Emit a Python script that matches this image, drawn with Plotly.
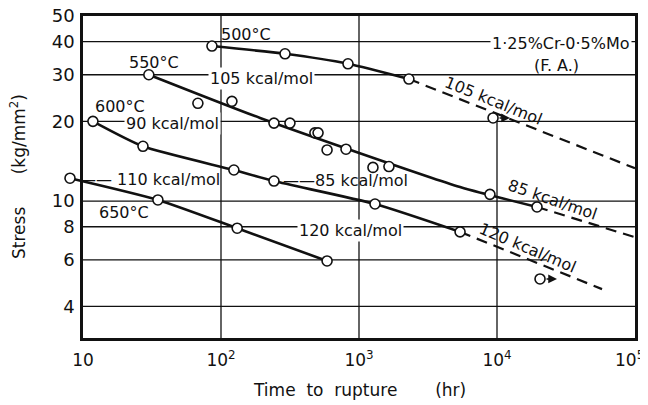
import numpy as np
import plotly.graph_objects as go

# ---------------- data (time to rupture [hr], stress [kg/mm2]) ----------------
# 500 C
t500 = [86, 291, 832, 2300]
s500 = [38.5, 36, 33, 28.9]
ext500_t = [2300, 100000]
ext500_s = [28.9, 13.3]
run500_t = [9360]
run500_s = [20.6]

# 550 C
t550 = [30, 68, 120, 242, 316, 479, 505, 587, 805, 1262, 1648, 8890, 19500]
s550 = [30, 23.4, 23.8, 19.7, 19.7, 18.1, 18.1, 15.6, 15.7, 13.4, 13.5, 10.6, 9.5]
fit550_t = [30, 192, 5400, 19500]
fit550_s = [30, 20.6, 11.3, 9.5]
ext550_t = [19500, 100000]
ext550_s = [9.5, 7.3]

# 600 C
t600 = [11.8, 27.2, 124, 242, 1306, 5400]
s600 = [20, 16.1, 13.1, 11.9, 9.75, 7.65]
ext600_t = [5400, 57700]
ext600_s = [7.65, 4.65]

# 650 C
t650 = [8.05, 34.9, 131, 587]
s650 = [12.2, 10.1, 7.9, 5.94]
run650_t = [20500]
run650_s = [5.08]

x_ticks = [10, 100, 1000, 10000, 100000]
x_ticktext = ["10", "10<sup>2</sup>", "10<sup>3</sup>", "10<sup>4</sup>",
              "10<sup>5</sup>\u00a0\u00a0"]
y_ticks = [4, 6, 8, 10, 20, 30, 40, 50]
y_ticktext = ["4", "6", "8", "10", "20", "30", "40", "50"]
y_grid = [4, 6, 8, 10, 20, 30, 40]
x_grid = [100, 1000, 10000]

# ---------------- figure geometry (page has an 8px body margin) ----------------
OFF = 8
W, H = 648 - OFF, 405 - OFF
L_PAD, AX_L, AX_R, AX_T, AX_B = 60 - OFF, 83 - OFF, 635 - OFF, 16 - OFF, 338 - OFF
X_LO, X_HI = 1.0, 5.0
Y_LO, Y_HI = np.log10(3.04), np.log10(50) + 1e-6
dec_px = (AX_R - AX_L) / (X_HI - X_LO)
X2_LO = X_LO - (AX_L - L_PAD) / dec_px          # extended axis for the off-axis 650 C point
dom0 = (AX_L - L_PAD) / (AX_R - L_PAD)

FONT = "DejaVu Sans"
INK = "#111111"
fig = go.Figure()

def grid(t, s):
    fig.add_trace(go.Scatter(x=t, y=s, mode="lines", line=dict(color=INK, width=1.3),
                             hoverinfo="skip", showlegend=False))

for g in y_grid:
    grid([10, 23000 if g == 6 else 100000], [g, g])
for g in x_grid:
    grid([g, g], [10 ** Y_LO, 20 if g == 10000 else 50])

def solid(t, s, xa="x"):
    fig.add_trace(go.Scatter(x=t, y=s, mode="lines", xaxis=xa,
                             line=dict(color=INK, width=2.6, shape="spline", smoothing=0.6),
                             hoverinfo="skip", showlegend=False))

def dashed(t, s):
    fig.add_trace(go.Scatter(x=t, y=s, mode="lines",
                             line=dict(color=INK, width=2.2, dash="11px,7px"),
                             hoverinfo="skip", showlegend=False))

def pts(t, s, xa="x"):
    fig.add_trace(go.Scatter(x=t, y=s, mode="markers", xaxis=xa,
                             marker=dict(symbol="circle", size=10, color="white",
                                         line=dict(color=INK, width=1.6)),
                             hoverinfo="skip", showlegend=False))

solid(t500, s500); dashed(ext500_t, ext500_s)
solid(fit550_t, fit550_s); dashed(ext550_t, ext550_s)
solid(t600, s600); dashed(ext600_t, ext600_s)
solid(t650, s650, "x2")

pts(t500, s500); pts(run500_t, run500_s)
pts(t550, s550)
pts(t600, s600)
pts(t650, s650, "x2"); pts(run650_t, run650_s)

# run-out arrows
for tt, ss in [(run500_t[0], run500_s[0]), (run650_t[0], run650_s[0])]:
    fig.add_annotation(x=np.log10(tt), y=np.log10(ss), xref="x", yref="y", text="",
                       showarrow=True, arrowhead=2, arrowsize=1.1, arrowwidth=1.6,
                       arrowcolor=INK, ax=-12, ay=0, xshift=17)

# text labels: (text, t, s, angle, white background)
labels = [
    ("500°C", 152, 42.7, 0, False),
    ("550°C", 32.7, 33.5, 0, False),
    ("105 kcal/mol", 198, 29.1, 0, True),
    ("600°C", 18.5, 22.8, 0, False),
    ("90 kcal/mol", 44.2, 19.7, 0, True),
    ("——\u00a0110 kcal/mol", 30.6, 12.05, 0, False),
    ("650°C", 19.8, 9.09, 0, False),
    ("——85 kcal/mol", 793, 12.0, 0, False),
    ("120 kcal/mol", 861, 7.77, 0, True),
    ("105 kcal/mol", 9360, 24.0, 22, False),
    ("85 kcal/mol", 25060, 10.1, 19, False),
    ("120 kcal/mol", 16500, 6.65, 23, False),
    ("1·25%Cr-0·5%Mo", 29100, 39.5, 0, True),
    ("(F. A.)", 26800, 32.6, 0, False),
]
for txt, tt, ss, ang, bg in labels:
    fig.add_annotation(x=np.log10(tt), y=np.log10(ss), xref="x", yref="y", text=txt,
                       showarrow=False, textangle=ang,
                       font=dict(family=FONT, size=16, color=INK),
                       bgcolor="white" if bg else "rgba(0,0,0,0)", borderpad=1)

# axis titles
fig.add_annotation(x=0.5, y=0, xref="x domain", yref="paper", yshift=-52, yanchor="middle",
                   text="Time\u00a0\u00a0to\u00a0\u00a0rupture\u00a0\u00a0\u00a0\u00a0\u00a0\u00a0\u00a0(hr)",
                   showarrow=False, font=dict(family=FONT, size=17, color=INK))
fig.add_annotation(x=0, y=0.5, xref="x domain", yref="paper", xshift=-65, xanchor="center",
                   text="Stress\u00a0\u00a0\u00a0\u00a0\u00a0\u00a0(kg/mm<sup>2</sup>)", textangle=-90,
                   showarrow=False, font=dict(family=FONT, size=17, color=INK))

fig.update_layout(
    width=W, height=H,
    margin=dict(l=L_PAD, r=W - AX_R, t=AX_T, b=H - AX_B),
    plot_bgcolor="rgba(0,0,0,0)", paper_bgcolor="white",
    font=dict(family=FONT, color=INK),
    xaxis=dict(type="log", range=[X_LO, X_HI + 1e-6], domain=[dom0, 1], automargin=False,
               showgrid=False, zeroline=False, ticklabeloverflow="allow",
               tickvals=x_ticks, ticktext=x_ticktext, ticks="", ticklabelstandoff=5,
               tickfont=dict(family=FONT, size=17, color=INK),
               showline=True, mirror=True, linewidth=2.6, linecolor=INK),
    xaxis2=dict(type="log", range=[X2_LO, X_HI + 1e-6], domain=[0, 1], anchor="y",
                visible=False, automargin=False),
    yaxis=dict(type="log", range=[Y_LO, Y_HI], automargin=False, anchor="x",
               showgrid=False, zeroline=False, ticklabeloverflow="allow",
               tickvals=y_ticks, ticktext=y_ticktext, ticks="", ticklabelstandoff=2,
               tickfont=dict(family=FONT, size=18, color=INK),
               showline=True, mirror=True, linewidth=2.6, linecolor=INK),
)

fig.write_html("out.html")
